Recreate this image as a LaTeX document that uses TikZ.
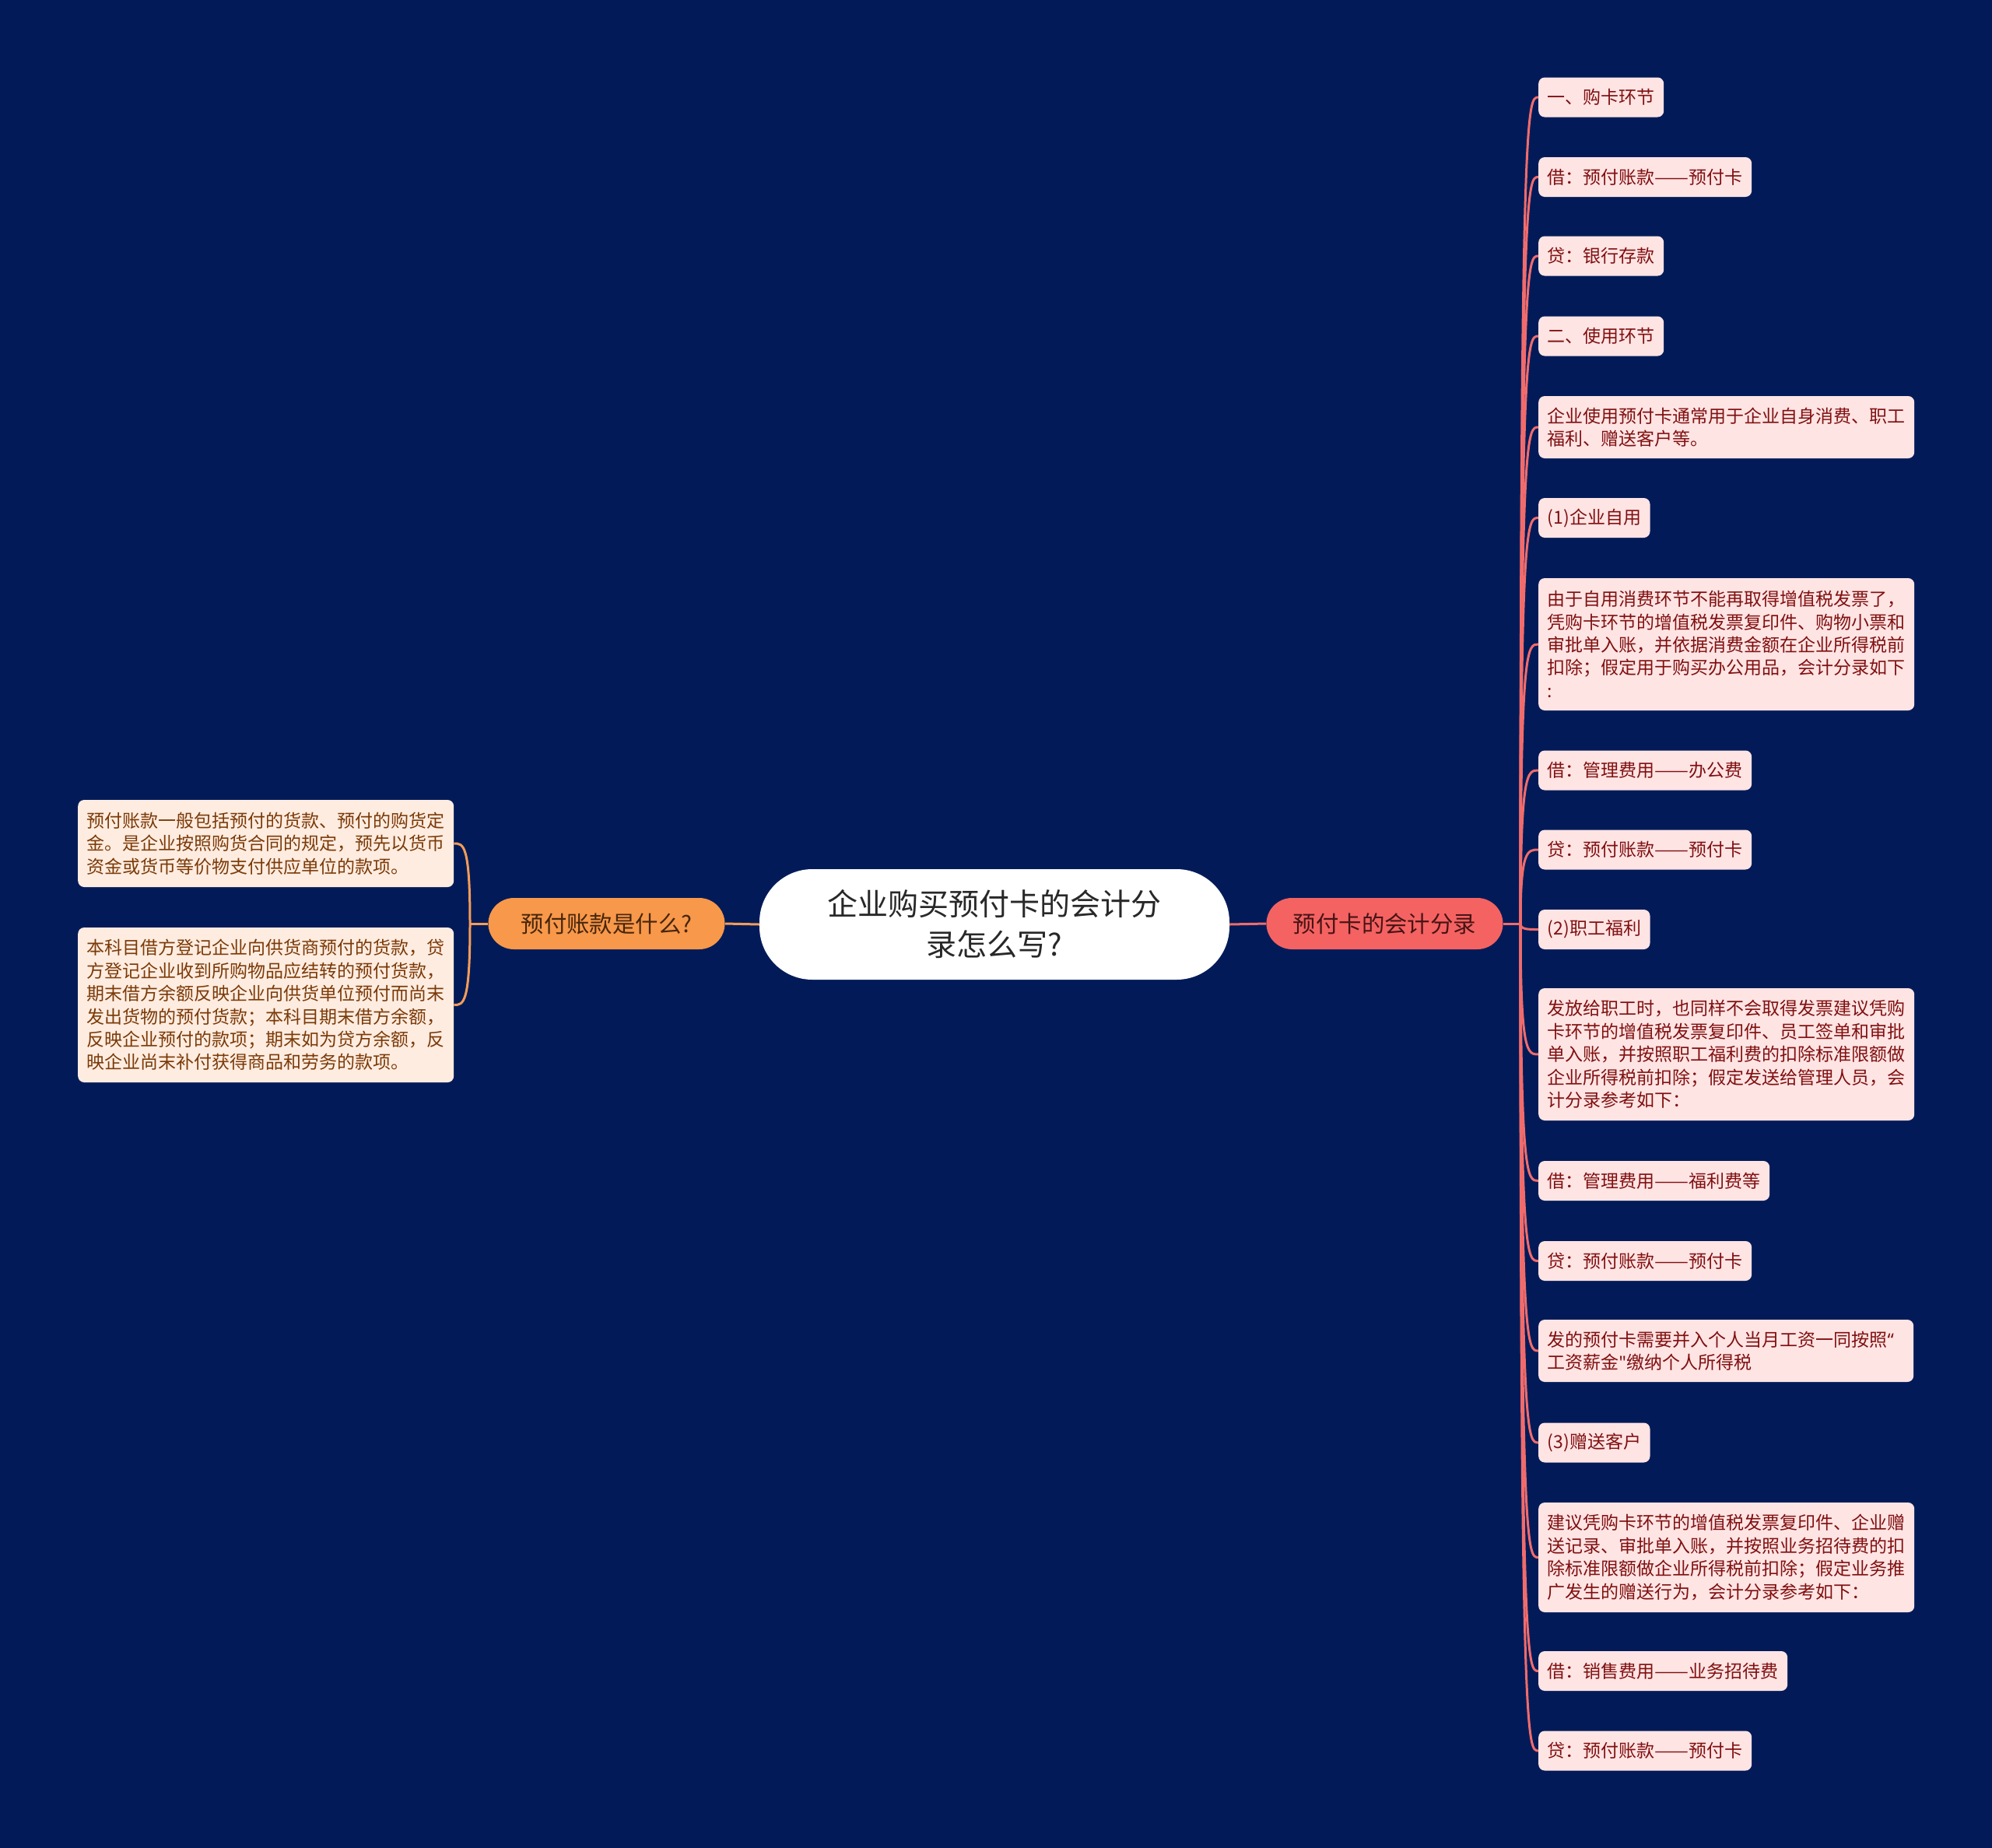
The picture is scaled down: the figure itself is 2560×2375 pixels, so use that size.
\documentclass[tikz,border=0pt]{standalone}
\usepackage{fontspec}
\usepackage{graphicx}
\setmainfont{Noto Sans CJK SC}
\newfontfamily\latinfont{Noto Sans}
\newcommand\ddash{\scalebox{1.14}[1]{——}}
\newcommand\sq{{\latinfont\char"22}}
\newcommand\oq{{\latinfont “}}
\definecolor{bgnavy}{RGB}{2,27,88}
\definecolor{rfill}{RGB}{255,228,228}
\definecolor{rtext}{RGB}{128,16,16}
\definecolor{lfill}{RGB}{255,236,224}
\definecolor{ltext}{RGB}{122,58,8}
\definecolor{rmain}{RGB}{245,98,98}
\definecolor{rline}{RGB}{240,108,108}
\definecolor{lmain}{RGB}{248,152,74}
\definecolor{lline}{RGB}{244,156,88}
\definecolor{roottext}{RGB}{40,40,40}
\tikzset{
  leafbox/.style={rounded corners=8pt, inner xsep=11.5pt, inner ysep=0pt,
    font=\fontsize{23pt}{29.4pt}\selectfont, align=left, minimum height=51pt},
  rleaf/.style={leafbox, fill=rfill, text=rtext, anchor=west},
  lleaf/.style={leafbox, fill=lfill, text=ltext, anchor=west},
  mainbox/.style={rounded corners=33pt, minimum width=304pt, minimum height=66pt,
    inner sep=0pt, font=\fontsize{29.4pt}{36pt}\selectfont},
  rconn/.style={draw=rline, line width=3pt},
  lconn/.style={draw=lline, line width=3pt},
}
\begin{document}
\begin{tikzpicture}[x=1pt,y=-1pt]
\fill[bgnavy] (0,0) rectangle (2560,2375);
\useasboundingbox (0,0) rectangle (2560,2375);

% root
\node[fill=white, rounded corners=68pt, minimum width=604pt, minimum height=142pt,
  inner sep=0pt, align=center, text=roottext, font=\fontsize{39pt}{52pt}\selectfont]
  (root) at (1278,1188) {企业购买预付卡的会计分\\录怎么写?};

% main nodes
\node[mainbox, fill=rmain, text={rgb,255:red,70;green,20;blue,20}] (rm) at (1779.5,1187) {预付卡的会计分录};
\node[mainbox, fill=lmain, text={rgb,255:red,70;green,38;blue,12}] (lm) at (779.5,1187) {预付账款是什么?};

\draw[rconn] (root.east) -- (rm.west);
\draw[lconn] (root.west) -- (lm.east);

% right leaves
\node[rleaf] (r1) at (1977,125) {一、购卡环节};
\node[rleaf] (r2) at (1977,227.5) {借：预付账款\ddash 预付卡};
\node[rleaf] (r3) at (1977,329) {贷：银行存款};
\node[rleaf] (r4) at (1977,432) {二、使用环节};
\node[rleaf, minimum height=80pt] (r5) at (1977,549) {企业使用预付卡通常用于企业自身消费、职工\\福利、赠送客户等。};
\node[rleaf] (r6) at (1977,665.5) {(1)企业自用};
\node[rleaf, minimum height=170pt] (r7) at (1977,828) {由于自用消费环节不能再取得增值税发票了，\\凭购卡环节的增值税发票复印件、购物小票和\\审批单入账，并依据消费金额在企业所得税前\\扣除；假定用于购买办公用品，会计分录如下\\:};
\node[rleaf] (r8) at (1977,990) {借：管理费用\ddash 办公费};
\node[rleaf] (r9) at (1977,1092) {贷：预付账款\ddash 预付卡};
\node[rleaf] (r10) at (1977,1194.5) {(2)职工福利};
\node[rleaf, minimum height=170pt] (r11) at (1977,1355) {发放给职工时，也同样不会取得发票建议凭购\\卡环节的增值税发票复印件、员工签单和审批\\单入账，并按照职工福利费的扣除标准限额做\\企业所得税前扣除；假定发送给管理人员，会\\计分录参考如下：};
\node[rleaf] (r12) at (1977,1517.5) {借：管理费用\ddash 福利费等};
\node[rleaf] (r13) at (1977,1620.5) {贷：预付账款\ddash 预付卡};
\node[rleaf, minimum height=80pt, text width=459pt] (r14) at (1977,1736) {发的预付卡需要并入个人当月工资一同按照\oq\\工资薪金\sq 缴纳个人所得税};
\node[rleaf] (r15) at (1977,1854) {(3)赠送客户};
\node[rleaf, minimum height=141pt] (r16) at (1977,2001.5) {建议凭购卡环节的增值税发票复印件、企业赠\\送记录、审批单入账，并按照业务招待费的扣\\除标准限额做企业所得税前扣除；假定业务推\\广发生的赠送行为，会计分录参考如下：};
\node[rleaf] (r17) at (1977,2147.5) {借：销售费用\ddash 业务招待费};
\node[rleaf] (r18) at (1977,2250) {贷：预付账款\ddash 预付卡};

% left leaves
\node[lleaf, minimum height=112pt] (l1) at (100,1084) {预付账款一般包括预付的货款、预付的购货定\\金。是企业按照购货合同的规定，预先以货币\\资金或货币等价物支付供应单位的款项。};
\node[lleaf, minimum height=199pt] (l2) at (100,1291.5) {本科目借方登记企业向供货商预付的货款，贷\\方登记企业收到所购物品应结转的预付货款，\\期末借方余额反映企业向供货单位预付而尚末\\发出货物的预付货款；本科目期末借方余额，\\反映企业预付的款项；期末如为贷方余额，反\\映企业尚末补付获得商品和劳务的款项。};

% right connectors
\coordinate (rj) at (1954,1187);
\draw[rconn] (rm.east) -- (rj);
\foreach \n in {r1,r2,r3,r4,r5,r6,r7,r8,r9,r10,r11,r12,r13,r14,r15,r16,r17,r18}{
  \draw[rconn] (rj) .. controls (rj |- \n.west) and ([xshift=-14pt]\n.west) .. (\n.west);
}

% left connectors
\coordinate (lj) at (604,1187);
\draw[lconn] (lm.west) -- (lj);
\foreach \n in {l1,l2}{
  \draw[lconn] (lj) .. controls (lj |- \n.east) and ([xshift=12pt]\n.east) .. (\n.east);
}
\end{tikzpicture}
\end{document}
